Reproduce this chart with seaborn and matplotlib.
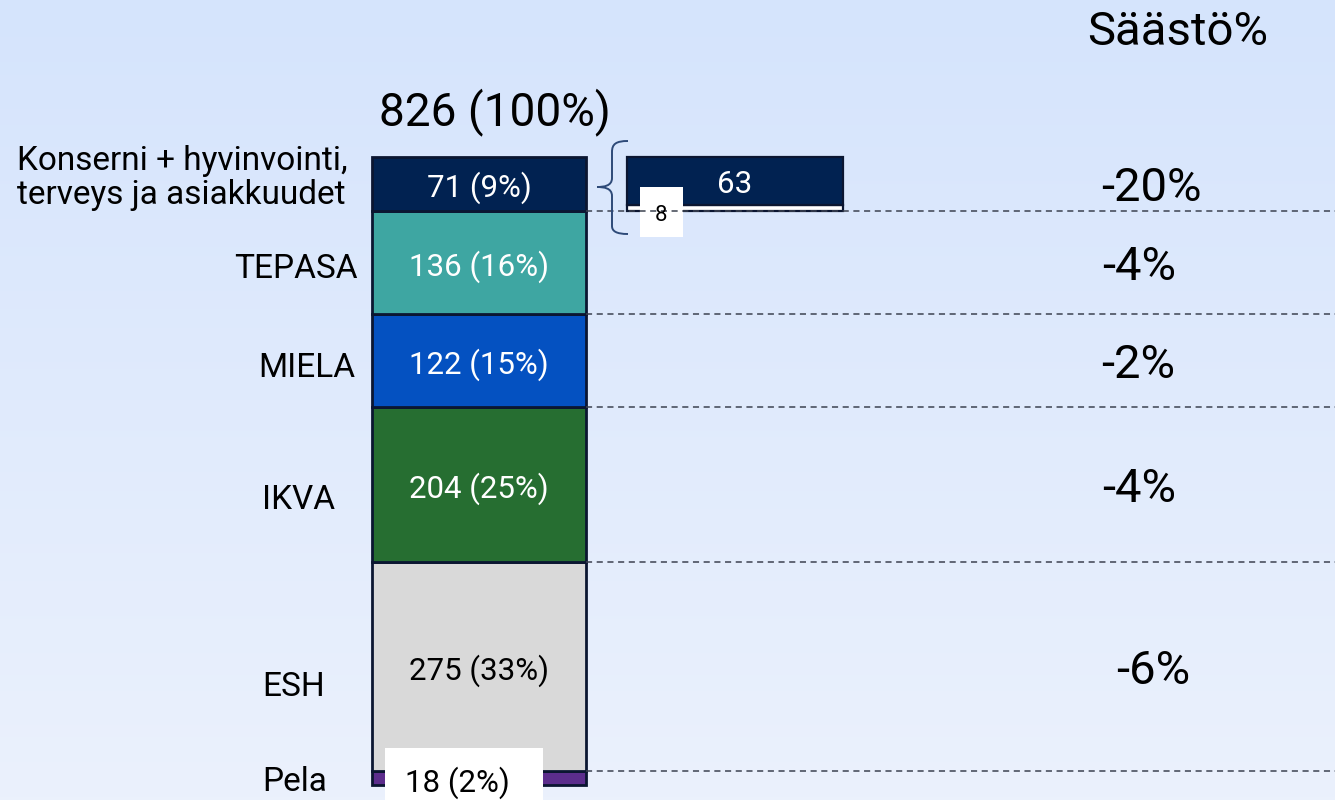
#!/usr/bin/env python3

import numpy as np
import matplotlib
matplotlib.use("Agg")
import matplotlib.pyplot as plt
from matplotlib.patches import Rectangle, PathPatch
from matplotlib.path import Path
from matplotlib.colors import LinearSegmentedColormap
import seaborn as sns

# ── Data (bottom -> top of the stack) ─────────────────────────────────────────
SEGMENTS = ["Pela", "ESH", "IKVA", "MIELA", "TEPASA",
            "Konserni + hyvinvointi,\nterveys ja asiakkuudet"]
VALUES   = [18, 275, 204, 122, 136, 71]
SHARES   = [2, 33, 25, 15, 16, 9]
SAVINGS  = [None, "-6%", "-4%", "-2%", "-4%", "-20%"]
TOTAL    = 826
TOTAL_LABEL = "826 (100%)"
DETAIL_VALUES = [8, 63]          # breakdown of the top segment
COLS = ["kaikki", "konserni"]

COLORS      = ["#5c2d8c", "#d9d9d9", "#266e31", "#0451c1", "#3ea6a2", "#012251"]
TEXT_COLORS = ["black", "black", "white", "white", "white", "white"]
DETAIL_COLORS = ["#ffffff", "#012251"]
EDGE = "#0b1631"

# ── Layout helpers (reference pixel -> data coords) ───────────────────────────
W, H = 1335, 800
BAR_CX, STEP = 479, 256
PX_PER_UNIT = 628 / TOTAL
BASE_PY = 785
TXT_DY = -4 / PX_PER_UNIT        # nudge single-line text down a bit

def x_of(px):
    return (px - BAR_CX) / STEP

def v_of(py):
    return (BASE_PY - py) / PX_PER_UNIT

sns.set_theme(style="white")
plt.rcParams["font.family"] = ["Roboto", "DejaVu Sans"]

fig = plt.figure(figsize=(W / 100, H / 100), dpi=100)
ax = fig.add_axes([0, 0, 1, 1])

# background gradient
bg = LinearSegmentedColormap.from_list("bg", ["#d5e4fc", "#ebf1fc"])
ax.imshow(np.linspace(0, 1, 256).reshape(-1, 1), cmap=bg, aspect="auto",
          extent=[x_of(0), x_of(W), v_of(H), v_of(0)], zorder=0)

# main stacked bar
bottoms = np.concatenate([[0], np.cumsum(VALUES)[:-1]])
for v, b, c in zip(VALUES, bottoms, COLORS):
    sns.barplot(x=[COLS[0]], y=[v], order=COLS, bottom=b, color=c,
                saturation=1, width=214 / STEP, edgecolor=EDGE, linewidth=2,
                errorbar=None, ax=ax, zorder=2)

# breakdown of the top segment
d_bottoms = TOTAL - VALUES[-1] + np.concatenate([[0], np.cumsum(DETAIL_VALUES)[:-1]])
for v, b, c in zip(DETAIL_VALUES, d_bottoms, DETAIL_COLORS):
    sns.barplot(x=[COLS[1]], y=[v], order=COLS, bottom=b, color=c,
                saturation=1, width=216 / STEP, edgecolor=EDGE, linewidth=1.6,
                errorbar=None, ax=ax, zorder=2)
ax.text(1, d_bottoms[1] + DETAIL_VALUES[1] / 2 + TXT_DY, str(DETAIL_VALUES[1]),
        ha="center", va="center", color="white", fontsize=22.5, zorder=6)
ax.add_patch(Rectangle((x_of(640), v_of(237)), x_of(683) - x_of(640),
                       v_of(187) - v_of(237), facecolor="white",
                       edgecolor="none", zorder=4))

# dashed separators
ax.hlines(np.cumsum(VALUES)[:-1], x_of(586), x_of(W), colors="#3c4250",
          linestyles=(0, (4, 3)), linewidth=1.1, zorder=4.5)
ax.text(x_of(661), v_of(213) + TXT_DY / 2, str(DETAIL_VALUES[0]), ha="center",
        va="center", color="black", fontsize=16, zorder=6)

# brace
bp = [(628, 141), (616, 141), (612, 144), (612, 152), (612, 178),
      (612, 186), (604, 187), (597, 187), (604, 187), (612, 188),
      (612, 196), (612, 226), (612, 231), (616, 234), (628, 234)]
codes = [Path.MOVETO, Path.CURVE4, Path.CURVE4, Path.CURVE4, Path.LINETO,
         Path.CURVE4, Path.CURVE4, Path.CURVE4, Path.CURVE4, Path.CURVE4,
         Path.CURVE4, Path.LINETO, Path.CURVE4, Path.CURVE4, Path.CURVE4]
ax.add_patch(PathPatch(Path([(x_of(a), v_of(b)) for a, b in bp], codes),
                       facecolor="none", edgecolor="#2e4a78", lw=1.4, zorder=5))

# segment labels inside the bar
centers = bottoms + np.array(VALUES) / 2
for i, (v, p, c) in enumerate(zip(VALUES, SHARES, TEXT_COLORS)):
    if i == 0:
        continue
    ax.text(0, centers[i] + TXT_DY, f"{v} ({p}%)", ha="center", va="center",
            color=c, fontsize=22.5, zorder=6)
ax.add_patch(Rectangle((x_of(385), v_of(H)), x_of(543) - x_of(385),
                       v_of(748) - v_of(H), facecolor="white",
                       edgecolor="none", zorder=5))
ax.text(x_of(457), v_of(779) + TXT_DY, f"{VALUES[0]} ({SHARES[0]}%)",
        ha="center", va="center", color="black", fontsize=22.5, zorder=6)

# left labels
LABEL_X  = [327, 325, 335, 355, 358, 17]
LABEL_DY = [0, -21, -15, -4, -3, 8]
for i, name in enumerate(SEGMENTS):
    last = i == len(SEGMENTS) - 1
    dy = LABEL_DY[i] + (0 if last else TXT_DY)
    ax.text(x_of(LABEL_X[i]), centers[i] + dy, name,
            ha="left" if last else "right", va="center", fontsize=24,
            color="black", linespacing=1.1, zorder=6)

# savings column
SAVE_X = [None, 1116, 1102, 1101, 1102, 1101]
for i, s in enumerate(SAVINGS):
    if s is None:
        continue
    ax.text(x_of(SAVE_X[i]), centers[i] + TXT_DY, s, ha="left", va="center",
            fontsize=34, color="black", zorder=6)
ax.text(x_of(1178), v_of(30) + TXT_DY / 2, "Säästö%", ha="center",
        va="center", fontsize=34, color="black")
ax.text(x_of(495), v_of(108) + TXT_DY, TOTAL_LABEL, ha="center",
        va="center", fontsize=33, color="black")

ax.set_xlim(x_of(0), x_of(W))
ax.set_ylim(v_of(H), v_of(0))
ax.axis("off")

fig.savefig("out.png", dpi=100)
